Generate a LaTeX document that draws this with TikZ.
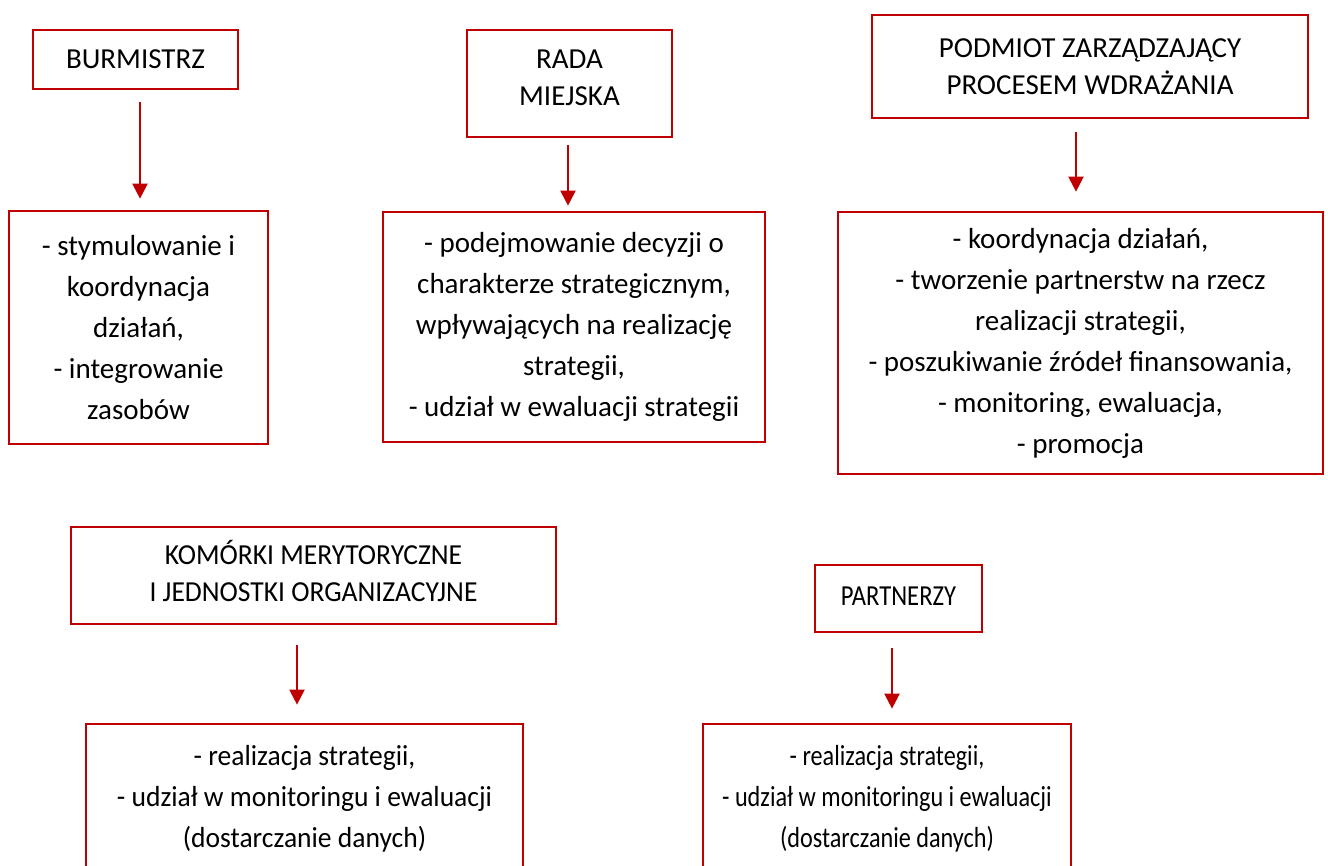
\documentclass[tikz,border=0pt]{standalone}
\usepackage{fontspec}
\usepackage{graphicx}
\setmainfont{Carlito}
\usetikzlibrary{arrows.meta}
\definecolor{boxred}{HTML}{C00000}
\newcommand\mlines[3]{\raisebox{#1}[\height][\depth]{\scalebox{#2}[1]{\begin{tabular}{@{}c@{}}#3\end{tabular}}}}
\begin{document}
\begin{tikzpicture}[x=0.5pt,y=-0.5pt,
  box/.style={draw=boxred, line width=1.35pt, rectangle, inner sep=0pt, align=center,
    font=\fontsize{14.5}{20.5}\selectfont},
  headbox/.style={box, font=\fontsize{14.5}{18.8}\selectfont},
  arr/.style={draw=boxred, line width=1.1pt, -{Triangle[width=7.5pt,length=7.5pt]}}]
\useasboundingbox (0,0) rectangle (1328,866);
\clip (0,0) rectangle (1328,866);
% column A
\node[headbox, minimum width=102.5pt, minimum height=29.5pt] (A1) at (135.5,59.5) {BURMISTRZ};
\node[box, minimum width=129.5pt, minimum height=116.5pt] (A2) at (138.5,327.5)
  {- stymulowanie i\\koordynacja\\działań,\\- integrowanie\\zasobów};
% column B
\node[headbox, minimum width=102.5pt, minimum height=53.5pt] (B1) at (569.5,83.5)
  {\mlines{2pt}{1}{RADA\\MIEJSKA}};
\node[box, minimum width=191pt, minimum height=115pt] (B2) at (574,327)
  {- podejmowanie decyzji o\\charakterze strategicznym,\\wpływających na realizację\\strategii,\\- udział w ewaluacji strategii};
% column C
\node[headbox, minimum width=218pt, minimum height=51.5pt] (C1) at (1090,66.5)
  {PODMIOT ZARZĄDZAJĄCY\\PROCESEM WDRAŻANIA};
\node[box, minimum width=242.5pt, minimum height=131pt] (C2) at (1080.5,343)
  {- koordynacja działań,\\- tworzenie partnerstw na rzecz\\realizacji strategii,\\- poszukiwanie źródeł finansowania,\\- monitoring, ewaluacja,\\- promocja};
% bottom left
\node[headbox, minimum width=242.5pt, minimum height=48.5pt] (D1) at (313.5,575.5)
  {\mlines{0pt}{0.95}{KOMÓRKI MERYTORYCZNE\\I JEDNOSTKI ORGANIZACYJNE}};
\node[box, minimum width=218.5pt, minimum height=74pt] (D2) at (304.5,798)
  {\mlines{0pt}{0.95}{- realizacja strategii,\\- udział w monitoringu i ewaluacji\\(dostarczanie danych)}};
% bottom right
\node[headbox, minimum width=83.5pt, minimum height=33.5pt] (E1) at (898.5,598.5)
  {\mlines{0.5pt}{0.85}{PARTNERZY}};
\node[box, minimum width=184pt, minimum height=74pt] (E2) at (887,798)
  {\mlines{0pt}{0.835}{- realizacja strategii,\\- udział w monitoringu i ewaluacji\\(dostarczanie danych)}};
% arrows
\draw[arr, shorten <=6pt, shorten >=5.5pt] ([xshift=2.25pt]A1.south) -- ([xshift=2.25pt]A1.south |- A2.north);
\draw[arr, shorten <=3.5pt, shorten >=2.5pt] ([xshift=-0.75pt]B1.south) -- ([xshift=-0.75pt]B1.south |- B2.north);
\draw[arr, shorten <=6.5pt, shorten >=9.5pt] ([xshift=-7pt]C1.south) -- ([xshift=-7pt]C1.south |- C2.north);
\draw[arr, shorten <=10pt, shorten >=9pt] ([xshift=-8.25pt]D1.south) -- ([xshift=-8.25pt]D1.south |- D2.north);
\draw[arr, shorten <=7.5pt, shorten >=7pt] ([xshift=-3.25pt]E1.south) -- ([xshift=-3.25pt]E1.south |- E2.north);
\end{tikzpicture}
\end{document}
